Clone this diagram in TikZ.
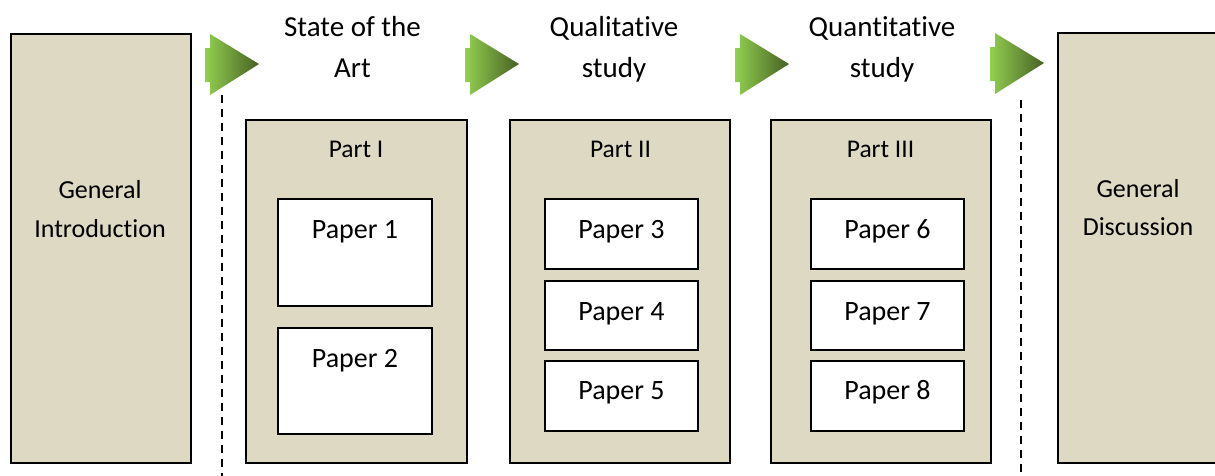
\documentclass[tikz,border=0pt]{standalone}
\usepackage{fontspec}
\setmainfont{Carlito}[Ligatures={NoCommon}]
\definecolor{tanfill}{RGB}{221,217,195}
\definecolor{arrowlight}{RGB}{146,208,80}
\definecolor{arrowdark}{RGB}{72,96,36}
\begin{document}
\begin{tikzpicture}[x=1pt,y=-1pt,
  block/.style={draw=black, line width=1.7pt, fill=tanfill, inner sep=0pt},
  paperbox/.style={draw=black, line width=1.4pt, fill=white, inner sep=0pt},
  headtxt/.style={anchor=base, inner sep=0pt, font=\fontsize{29}{35}\selectfont},
  gentxt/.style={anchor=base, inner sep=0pt, font=\fontsize{26}{31}\selectfont},
  parttxt/.style={anchor=base, inner sep=0pt, font=\fontsize{25.5}{30}\selectfont},
  papertxt/.style={anchor=base, inner sep=0pt, font=\fontsize{28}{33}\selectfont},
  separator/.style={line width=1.3pt, dash pattern=on 8pt off 6pt},
  chevron/.pic={
    \shade[left color=arrowlight, right color=arrowdark]
      (0,14) -- (5,14) -- (5,0) -- (54,30) -- (5,61) -- (5,48) -- (0,48) -- cycle;
  }]
\useasboundingbox (0,0) rectangle (1215,475);
\clip (0,0) rectangle (1215,475);

% opening and closing chapters
\node[block, minimum width=180, minimum height=429] (intro) at (101,248.5) {};
\node[block, minimum width=164, minimum height=430] (disc) at (1140,248) {};
\node[gentxt] (introA) at (100,198) {General};
\node[gentxt] (introB) at (100,237) {Introduction};
\node[gentxt] (discA) at (1138,197) {General};
\node[gentxt] (discB) at (1138,235) {Discussion};

% dashed separators
\coordinate (s1t) at (222,95);  \coordinate (s1b) at (222,478);
\coordinate (s2t) at (1021,100); \coordinate (s2b) at (1021,478);
\draw[separator] (s1t) -- (s1b);
\draw[separator] (s2t) -- (s2b);

% flow arrows
\pic at (205,34) {chevron};
\pic at (465,34) {chevron};
\pic at (735,34) {chevron};
\pic at (990,33) {chevron};

% stage headings
\node[headtxt] (h1a) at (352.5,36) {State of the};
\node[headtxt] (h1b) at (352.5,77) {Art};
\node[headtxt] (h2a) at (614,36) {Qualitative};
\node[headtxt] (h2b) at (614,77) {study};
\node[headtxt] (h3a) at (882,36) {Quantitative};
\node[headtxt] (h3b) at (882,77) {study};

% Part I
\node[block, minimum width=221, minimum height=343] (part1) at (356.5,291.5) {};
\node[parttxt] (part1t) at (356,157) {Part I};
\node[paperbox, minimum width=154, minimum height=107] (p1) at (355,252.5) {};
\node[paperbox, minimum width=154, minimum height=106] (p2) at (355,381) {};
\node[papertxt] (p1t) at (355,238) {Paper 1};
\node[papertxt] (p2t) at (355,367) {Paper 2};

% Part II
\node[block, minimum width=220, minimum height=343] (part2) at (620,291.5) {};
\node[parttxt] (part2t) at (620.5,157) {Part II};
\node[paperbox, minimum width=153, minimum height=70] (p3) at (621.5,234) {};
\node[paperbox, minimum width=153, minimum height=69] (p4) at (621.5,315.5) {};
\node[paperbox, minimum width=153, minimum height=70] (p5) at (621.5,396) {};
\node[papertxt] (p3t) at (621.5,238) {Paper 3};
\node[papertxt] (p4t) at (621.5,320) {Paper 4};
\node[papertxt] (p5t) at (621.5,399) {Paper 5};

% Part III
\node[block, minimum width=220, minimum height=343] (part3) at (881,291.5) {};
\node[parttxt] (part3t) at (880.5,157) {Part III};
\node[paperbox, minimum width=153, minimum height=70] (p6) at (887.5,234) {};
\node[paperbox, minimum width=153, minimum height=69] (p7) at (887.5,315.5) {};
\node[paperbox, minimum width=153, minimum height=70] (p8) at (887.5,396) {};
\node[papertxt] (p6t) at (887.5,238) {Paper 6};
\node[papertxt] (p7t) at (887.5,320) {Paper 7};
\node[papertxt] (p8t) at (887.5,399) {Paper 8};
\end{tikzpicture}
\end{document}
